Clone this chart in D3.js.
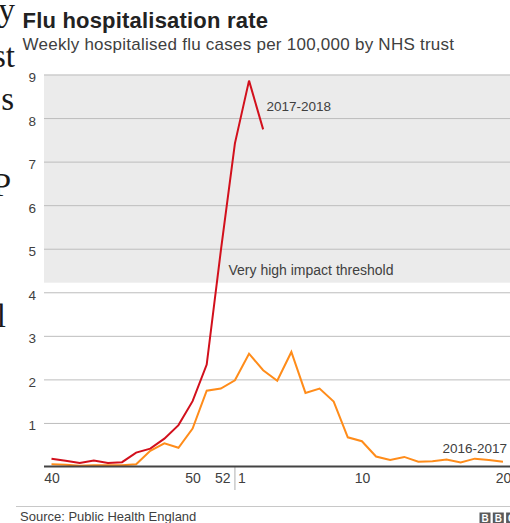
<!DOCTYPE html>
<html>
<head>
<meta charset="utf-8">
<script src="https://cdn.jsdelivr.net/npm/d3@7"></script>
<style>
  html, body { margin: 0; padding: 0; background: #fff; }
  svg { display: block; }
  text { font-family: "Liberation Sans", Arial, Helvetica, sans-serif; }
</style>
</head>
<body>
<svg id="chart" width="510" height="523"></svg>
<script>
// ---- data ----
const weeks = [40,41,42,43,44,45,46,47,48,49,50,51,52,1,2,3,4,5,6,7,8,9,10,11,12,13,14,15,16,17,18,19,20];
const season2017_18 = [0.18,0.13,0.08,0.14,0.08,0.10,0.32,0.41,0.64,0.95,1.50,2.34,4.95,7.42,8.86,7.74];
const season2016_17 = [0.05,0.04,0.02,0.03,0.03,0.03,0.05,0.36,0.53,0.43,0.87,1.74,1.79,1.98,2.59,2.21,1.97,2.63,1.69,1.79,1.49,0.67,0.58,0.23,0.15,0.22,0.11,0.12,0.16,0.09,0.18,0.15,0.11];
const seriesNames = ["2017-2018", "2016-2017"];
const yTicks = [1,2,3,4,5,6,7,8,9];
const xTicks = [40,50,52,1,10,20];
const threshold = 4.22;
const thresholdLabel = "Very high impact threshold";
const titleText = "Flu hospitalisation rate";
const subtitleText = "Weekly hospitalised flu cases per 100,000 by NHS trust";
const sourceText = "Source: Public Health England";
const articleFragments = [["y", 21], ["st", 67], ["s", 110], ["P", 196], ["l", 327]];
const fragmentRight = [15, 15, 14, 11, 6];

const svg = d3.select("#chart");

// background article fragments (cut off at left edge, as in the reference)
svg.selectAll("text.frag").data(articleFragments).join("text")
  .attr("class", "frag")
  .attr("x", (d, i) => fragmentRight[i])
  .attr("y", d => d[1])
  .attr("text-anchor", "end")
  .style("font-family", "'Liberation Serif', 'DejaVu Serif', serif")
  .style("font-size", "33px")
  .attr("fill", "#1a1a1a")
  .text(d => d[0]);

// title & subtitle
svg.append("text").attr("x", 22.5).attr("y", 27.5)
  .style("font-size", "22px").style("font-weight", "bold")
  .style("letter-spacing", "0.2px").attr("fill", "#222")
  .text(titleText);
svg.append("text").attr("x", 22.5).attr("y", 49.5)
  .style("font-size", "17px").style("letter-spacing", "0.25px").attr("fill", "#404040")
  .text(subtitleText);

// scales
const plotLeft = 44, plotRight = 510;
const x = d3.scalePoint().domain(weeks).range([51.5, 503]);
const y = d3.scaleLinear().domain([0, 9]).range([466.5, 74.5]);

// threshold shading
svg.append("rect")
  .attr("x", plotLeft).attr("width", plotRight - plotLeft)
  .attr("y", y(9)).attr("height", y(threshold) - y(9))
  .attr("fill", "#ebebeb");

// y axis grid + labels
const yAxis = d3.axisLeft(y).tickValues(yTicks)
  .tickSize(-(plotRight - plotLeft)).tickPadding(8);
const gy = svg.append("g").attr("transform", `translate(${plotLeft},0)`).call(yAxis);
gy.select(".domain").remove();
gy.selectAll(".tick line").attr("stroke", "#bdbdbd").attr("stroke-width", 1);
gy.selectAll(".tick text")
  .attr("fill", "#404040").style("font-size", "13.5px")
  .attr("dy", null).attr("y", 7);

// threshold label
svg.append("text").attr("x", 228.5).attr("y", 274.5)
  .style("font-size", "14px").attr("fill", "#404040")
  .text(thresholdLabel);

// x axis
const xAxis = d3.axisBottom(x).tickValues(xTicks).tickSize(0).tickPadding(0);
const gx = svg.append("g").attr("transform", `translate(0,${y(0)})`).call(xAxis);
gx.select(".domain").remove();
gx.selectAll(".tick text")
  .attr("fill", "#404040").style("font-size", "14px")
  .attr("dy", null).attr("y", 16.5)
  .attr("text-anchor", d => d === 1 ? "start" : "middle")
  .attr("x", d => d === 1 ? 2.5 : (d === 52 ? 1.5 : 0));

// year separator
svg.append("line")
  .attr("x1", x(1)).attr("x2", x(1))
  .attr("y1", y(0)).attr("y2", y(0) + 23.5)
  .attr("stroke", "#b0b0b0").attr("stroke-width", 1);

// lines
const line = d3.line().x((d, i) => x(weeks[i])).y(d => y(d));
svg.append("path").datum(season2016_17)
  .attr("d", line).attr("fill", "none")
  .attr("stroke", "#ff8c1a").attr("stroke-width", 2).attr("stroke-linejoin", "miter");
svg.append("path").datum(season2017_18)
  .attr("d", line).attr("fill", "none")
  .attr("stroke", "#d2101c").attr("stroke-width", 2).attr("stroke-linejoin", "miter");

// zero baseline
svg.append("line")
  .attr("x1", plotLeft).attr("x2", plotRight)
  .attr("y1", y(0)).attr("y2", y(0))
  .attr("stroke", "#444").attr("stroke-width", 2);

// series labels
svg.append("text").attr("x", 266.5).attr("y", 110.5)
  .style("font-size", "13.5px").attr("fill", "#404040")
  .text(seriesNames[0]);
svg.append("text").attr("x", 507).attr("y", 452.5)
  .attr("text-anchor", "end")
  .style("font-size", "13.5px").attr("fill", "#404040")
  .text(seriesNames[1]);

// footer
svg.append("line")
  .attr("x1", 16).attr("x2", 510).attr("y1", 506.5).attr("y2", 506.5)
  .attr("stroke", "#c8c8c8").attr("stroke-width", 1);
svg.append("text").attr("x", 20).attr("y", 521)
  .style("font-size", "13px").attr("fill", "#404040")
  .text(sourceText);

const logo = svg.append("g");
["B", "B", "C"].forEach((ch, i) => {
  const bx = 479.5 + i * 13.3;
  logo.append("rect").attr("x", bx).attr("y", 512.5).attr("width", 11).attr("height", 11)
    .attr("fill", "#5a5a5a");
  logo.append("text").attr("x", bx + 5.5).attr("y", 521.8)
    .attr("text-anchor", "middle")
    .style("font-size", "10px").style("font-weight", "bold").attr("fill", "#fff")
    .text(ch);
});
</script>
</body>
</html>
